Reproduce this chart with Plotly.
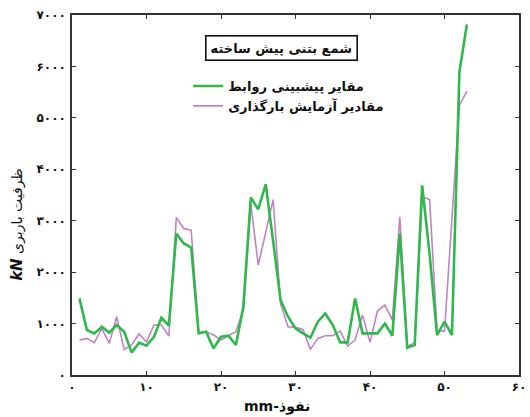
import plotly.graph_objects as go

x_vals = list(range(1, 54))
predicted = [1489, 874, 809, 939, 822, 971, 841, 434, 628, 569, 744, 1113, 958,
             2751, 2557, 2479,
             809, 841, 518, 744, 764, 583, 1327,
             3450, 3223, 3709, 2600,
             1456, 1133, 906, 809, 725, 1036, 1197, 971, 634, 634,
             1489, 809, 809, 809, 1000, 764, 2751,
             530, 583, 3689, 2350, 777, 1036, 777, 5890, 6816]
measured = [680, 712, 628, 906, 615, 1133, 498, 583, 796, 647, 971, 971, 757,
            3062, 2848, 2816,
            809, 841, 777, 680, 764, 841, 1262,
            3333, 2136, 2783, 3411,
            1378, 938, 926, 887, 498, 712, 764, 764, 854, 563,
            680, 1165, 635, 1243, 1359, 1068, 3074,
            560, 620, 3462, 3411, 870, 850, 2950, 5243, 5520]

name_pred = "مقایر پیشبینی روابط"
name_meas = "مقادیر آزمایش بارگذاری"
legend_title = "شمع بتنی پیش ساخته"
x_title = "mm-نفوذ"
y_title = "<b><i><span style='font-size:15px'>kN</span></i></b> ظرفیت باربری"

y_tickvals = [0, 1000, 2000, 3000, 4000, 5000, 6000, 7000]
y_ticktext = ["۰", "۱۰۰۰", "۲۰۰۰", "۳۰۰۰", "۴۰۰۰", "۵۰۰۰", "۶۰۰۰", "۷۰۰۰"]
x_tickvals = [0, 10, 20, 30, 40, 50, 60]
x_ticktext = ["۰", "۱۰", "۲۰", "۳۰", "۴۰", "۵۰", "۶۰"]

GREEN = "#2fb84c"
PURPLE = "#c283c4"
FONT = "DejaVu Sans"

fig = go.Figure()
fig.add_trace(go.Scatter(x=x_vals, y=measured, mode="lines", name=name_meas,
                         line=dict(color=PURPLE, width=1.6), legendrank=2))
fig.add_trace(go.Scatter(x=x_vals, y=predicted, mode="lines", name=name_pred,
                         line=dict(color=GREEN, width=2.6), legendrank=1))

axis_common = dict(showline=True, linecolor="#333333", linewidth=1.5, mirror="ticks",
                   ticks="inside", ticklen=4, tickcolor="#333333", showgrid=False,
                   zeroline=False, ticklabeloverflow="allow",
                   tickfont=dict(family=FONT, size=12, color="#111111", weight="bold"))

fig.update_xaxes(range=[0, 60], tickvals=x_tickvals, ticktext=x_ticktext, **axis_common)
fig.update_yaxes(range=[0, 7000], tickvals=y_tickvals, ticktext=y_ticktext,
                 ticklabelstandoff=2, **axis_common)

fig.update_layout(
    width=530, height=417,
    margin=dict(l=72, r=4, t=15, b=42),
    paper_bgcolor="white", plot_bgcolor="white",
    showlegend=True,
    legend=dict(x=(190 - 72) / 454, y=(375 - 71) / 360, xanchor="left", yanchor="top",
                bgcolor="rgba(0,0,0,0)", borderwidth=0,
                font=dict(family=FONT, size=13, color="#111111", weight="bold"),
                traceorder="normal", itemwidth=30),
    font=dict(family=FONT, color="#111111"),
    annotations=[
        dict(text="<b>" + legend_title + "</b>", xref="paper", yref="paper",
             x=(285 - 72) / 454, y=(375 - 47.5) / 360, xanchor="center", yanchor="middle",
             showarrow=False, font=dict(family=FONT, size=13, color="#111111"),
             bordercolor="#111111", borderwidth=1.6, borderpad=4, bgcolor="white"),
        dict(text="<b>" + x_title + "</b>", xref="paper", yref="paper",
             x=(280 - 72) / 454, y=(375 - 407) / 360, xanchor="center", yanchor="middle",
             showarrow=False, font=dict(family=FONT, size=14, color="#111111")),
        dict(text=y_title, xref="paper", yref="paper", textangle=-90,
             x=(16 - 72) / 454, y=(375 - 225) / 360, xanchor="center", yanchor="middle",
             showarrow=False, font=dict(family=FONT, size=14, color="#111111")),
    ],
)

fig.write_html("out.html")
